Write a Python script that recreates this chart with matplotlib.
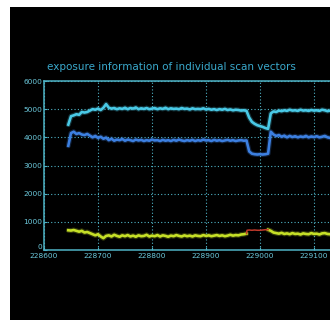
import numpy as np
import matplotlib.pyplot as plt
from matplotlib.patches import Rectangle

# samples every 5 units of scan position, starting at x0
x0 = 228645
step = 5

laser_high = [4450, 4750, 4780, 4820, 4800, 4900, 4880, 4900, 4950, 5000,
              4980, 5020, 4970, 5050, 5180, 5050, 5020, 5040, 5000, 5030,
              5010, 5050, 5000, 5040, 5020, 5060, 5000, 5030, 5010, 5040,
              5000, 5020, 5040, 5000, 5030, 5010, 5050, 5000, 5030, 5010,
              5020, 5000, 5040, 5010, 5020, 4990, 5030, 5000, 5010, 5000,
              5030, 4990, 5010, 4980, 5000, 4970, 5000, 4980, 5010, 4970,
              4990, 4960, 4980, 4970, 4950, 4960, 4940,
              4700, 4550, 4480, 4430, 4400, 4370, 4330, 4300,
              4850, 4920, 4900, 4950, 4930, 4960, 4940, 4980, 4950, 4960,
              4940, 4980, 4950, 4960, 4940, 4970, 4950, 4960, 4940, 4980,
              4960, 4930, 4950]

laser_low = [3700, 4150, 4200, 4120, 4150, 4100, 4080, 4120, 4060, 4000,
             4050, 3980, 4020, 3950, 3990, 3900, 3950, 3880, 3920, 3900,
             3940, 3880, 3920, 3900, 3870, 3920, 3890, 3910, 3870, 3900,
             3880, 3920, 3890, 3900, 3870, 3910, 3880, 3900, 3870, 3910,
             3880, 3920, 3890, 3870, 3900, 3880, 3910, 3870, 3900, 3880,
             3920, 3890, 3900, 3870, 3910, 3880, 3900, 3870, 3890, 3910,
             3880, 3900, 3870, 3890, 3900, 3880, 3890,
             3500, 3420, 3400, 3390, 3400, 3390, 3400, 3420,
             4200, 4100, 4050, 4080, 4020, 4060, 4000, 4050, 4010, 4040,
             4000, 4030, 4010, 4050, 4000, 4030, 4010, 4040, 4000, 4020,
             4050, 4000, 3980]

nan = np.nan
speed = [700, 690, 710, 680, 650, 680, 620, 640, 600, 560,
         520, 560, 480, 420, 500, 520, 480, 540, 500, 470,
         520, 490, 530, 480, 510, 470, 520, 490, 500, 540,
         480, 510, 490, 530, 480, 520, 500, 470, 510, 490,
         530, 500, 480, 520, 490, 510, 480, 520, 500, 490,
         530, 500, 520, 490, 510, 530, 500, 520, 490, 510,
         540, 510, 530, 520, 550, 560, 580,
         nan, nan, nan, nan, nan, nan, nan,
         720, 680, 620, 600, 580, 610, 570, 590, 560, 600,
         570, 580, 550, 590, 570, 560, 600, 570, 580, 550,
         590, 600, 570, 560]

# flagged stretch of the speed trace
flag_x = [228975, 228976, 228980, 228985, 228990, 228995, 229000, 229005, 229010, 229015]
flag_y = [580, 700, 710, 700, 710, 700, 700, 710, 720, 720]

xticks = [228600, 228700, 228800, 228900, 229000, 229100]
yticks = [0, 1000, 2000, 3000, 4000, 5000, 6000]

grid_c = '#4fb3c6'
text_c = '#6cc9dc'

fig = plt.figure(figsize=(3.3, 3.2), dpi=100, facecolor='white')
fig.patches.append(Rectangle((10 / 330, 0), 1, 313 / 320, transform=fig.transFigure,
                             facecolor='black', edgecolor='none', zorder=-10))

ax = fig.add_axes([44 / 330, 70 / 320, 324 / 330, 169 / 320])
ax.set_zorder(1)
ax.set_facecolor('black')


def series_x(vals):
    return x0 + step * np.arange(len(vals))


def glow_plot(x, y, color):
    ax.plot(x, y, color=color, lw=3.6, alpha=0.25, solid_capstyle='round')
    ax.plot(x, y, color=color, lw=1.9)


glow_plot(series_x(laser_high), laser_high, '#49c9e6')
glow_plot(series_x(laser_low), laser_low, '#3c7fe0')
glow_plot(series_x(speed), speed, '#c5df27')
ax.plot(flag_x, flag_y, color='#c0392b', lw=1.1)

ax.set_xlim(228600, 229200)
ax.set_ylim(0, 6000)
ax.set_xticks(xticks)
ax.set_yticks(yticks)
ax.grid(True, color=grid_c, ls=(0, (1, 2)), lw=0.8)
for s in ax.spines.values():
    s.set_color(grid_c)
    s.set_linewidth(1.1)
ax.tick_params(colors=grid_c, labelcolor=text_c, labelsize=5.3, length=2, width=0.8,
               direction='in')
ax.tick_params(axis='x', pad=2.2)
ax.tick_params(axis='y', pad=1.2)
# lift the zero label off the x labels
ax.get_yticklabels()[0].set_va('bottom')

fig.text(0.52, 0.79, 'exposure information of individual scan vectors',
         color='#3aa9cc', fontsize=7.5, ha='center', va='center', zorder=2)

fig.savefig('out.png', dpi=100, facecolor='white')
